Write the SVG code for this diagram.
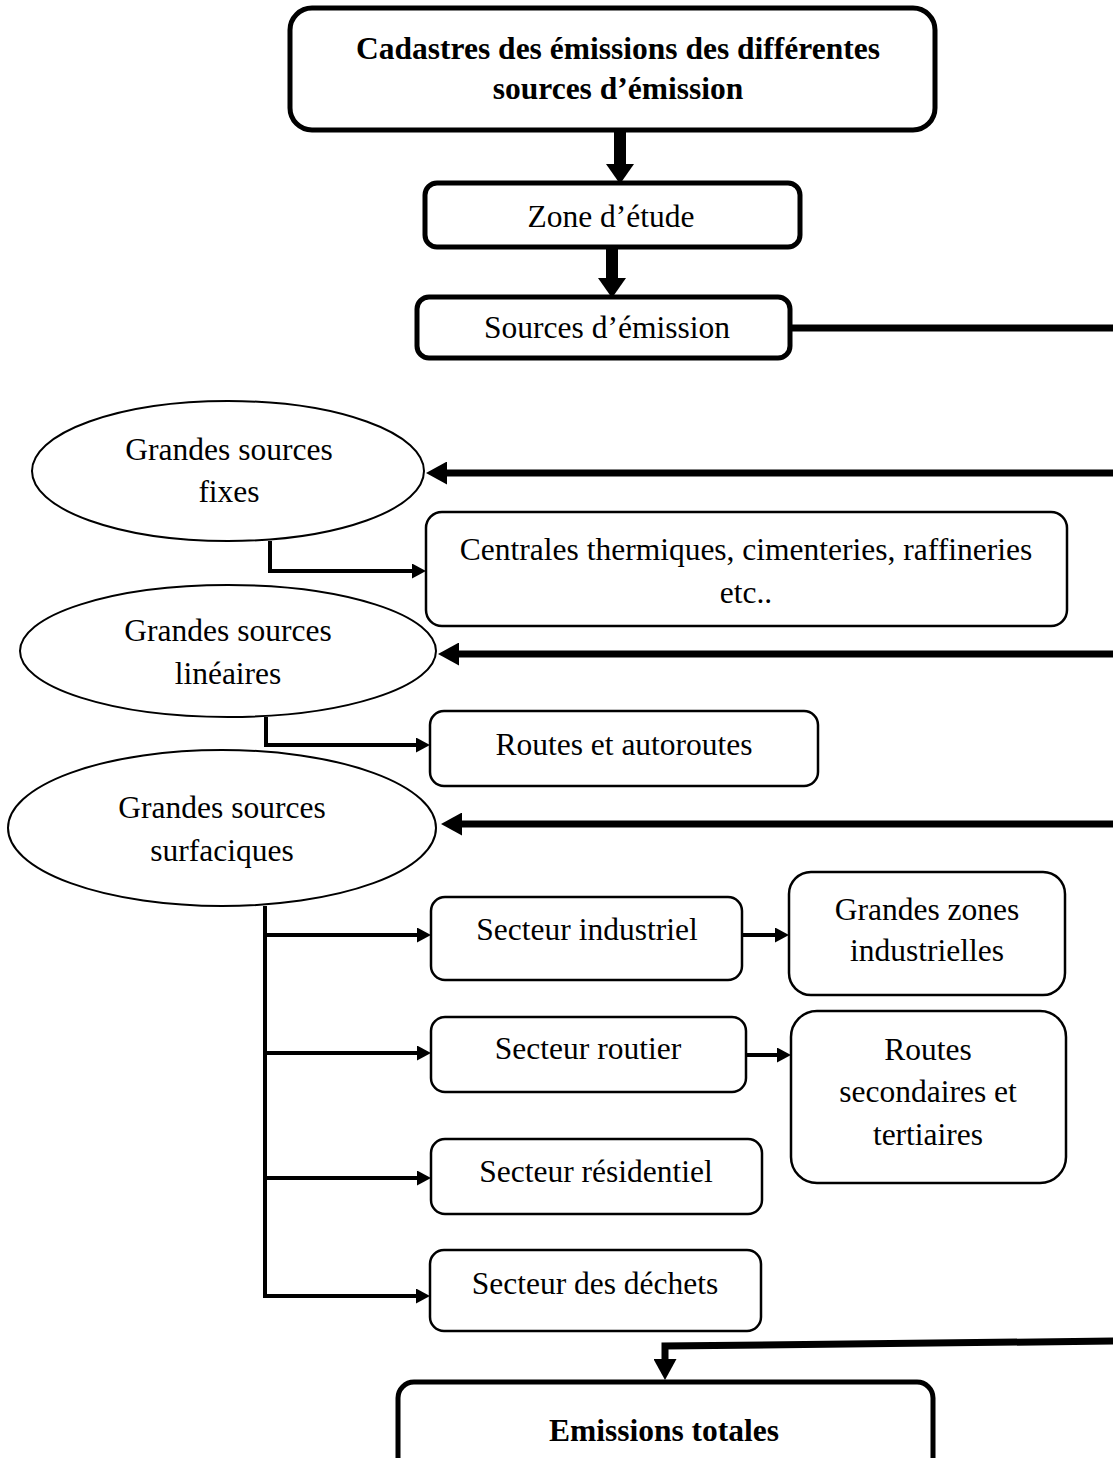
<svg xmlns="http://www.w3.org/2000/svg" width="1113" height="1458" viewBox="0 0 1113 1458">
<defs>
<style>
text{font-family:"Liberation Serif","Times New Roman",serif;font-size:31.5px;fill:#000;text-anchor:middle}
.b{font-weight:bold}
.thick{fill:#fff;stroke:#000;stroke-width:5}
.thin{fill:#fff;stroke:#000;stroke-width:2.5}
.ell{fill:#fff;stroke:#000;stroke-width:2}
.c12{fill:none;stroke:#000;stroke-width:12}
.c7{fill:none;stroke:#000;stroke-width:7}
.c4{fill:none;stroke:#000;stroke-width:4}
</style>
<marker id="hBig" markerUnits="userSpaceOnUse" viewBox="0 0 20 28" markerWidth="20" markerHeight="28" refX="0" refY="14" orient="auto"><path d="M0,0 L20,14 L0,28 z" fill="#000"/></marker>
<marker id="hMed" markerUnits="userSpaceOnUse" viewBox="0 0 21 23" markerWidth="21" markerHeight="23" refX="0" refY="11.5" orient="auto"><path d="M0,0 L21,11.5 L0,23 z" fill="#000"/></marker>
<marker id="hSm" markerUnits="userSpaceOnUse" viewBox="0 0 14 15" markerWidth="14" markerHeight="15" refX="0" refY="7.5" orient="auto"><path d="M0,0 L14,7.5 L0,15 z" fill="#000"/></marker>
</defs>

<g id="connectors">
<path class="c12" d="M620,131 V164" marker-end="url(#hBig)"/>
<path class="c12" d="M612,248 V278" marker-end="url(#hBig)"/>
<path class="c7" d="M790,328 H1120"/>
<path class="c7" d="M1120,473 H447" marker-end="url(#hMed)"/>
<path class="c4" d="M270,541 V571 H412" marker-end="url(#hSm)"/>
<path class="c7" d="M1120,654 H459" marker-end="url(#hMed)"/>
<path class="c4" d="M266,717 V745 H416" marker-end="url(#hSm)"/>
<path class="c7" d="M1120,824 H462" marker-end="url(#hMed)"/>
<path class="c4" d="M265,906 V1296"/>
<path class="c4" d="M265,935 H417" marker-end="url(#hSm)"/>
<path class="c4" d="M265,1053 H417" marker-end="url(#hSm)"/>
<path class="c4" d="M265,1178 H417" marker-end="url(#hSm)"/>
<path class="c4" d="M263,1296 H416" marker-end="url(#hSm)"/>
<path class="c4" d="M743,935 H775" marker-end="url(#hSm)"/>
<path class="c4" d="M747,1055 H777" marker-end="url(#hSm)"/>
<path class="c7" d="M1120,1341 L665,1346 V1359" marker-end="url(#hMed)"/>
</g>

<g id="n-cadastres">
<rect class="thick" x="290" y="8" width="645" height="122" rx="22"/>
<text class="b" x="618" y="59">Cadastres des émissions des différentes</text>
<text class="b" x="618" y="99">sources d’émission</text>
</g>
<g id="n-zone">
<rect class="thick" x="425" y="183" width="375" height="64" rx="12"/>
<text x="611" y="227">Zone d’étude</text>
</g>
<g id="n-sources">
<rect class="thick" x="417" y="297" width="373" height="61" rx="12"/>
<text x="607" y="338">Sources d’émission</text>
</g>
<g id="n-fixes">
<ellipse class="ell" cx="228" cy="471" rx="196" ry="70"/>
<text x="229" y="460">Grandes sources</text>
<text x="229" y="502">fixes</text>
</g>
<g id="n-centrales">
<rect class="thin" x="426" y="512" width="641" height="114" rx="16"/>
<text x="746" y="560">Centrales thermiques, cimenteries, raffineries</text>
<text x="746" y="603">etc..</text>
</g>
<g id="n-lineaires">
<ellipse class="ell" cx="228" cy="651" rx="208" ry="66"/>
<text x="228" y="641">Grandes sources</text>
<text x="228" y="684">linéaires</text>
</g>
<g id="n-routes">
<rect class="thin" x="430" y="711" width="388" height="75" rx="14"/>
<text x="624" y="755">Routes et autoroutes</text>
</g>
<g id="n-surfaciques">
<ellipse class="ell" cx="222" cy="828" rx="214" ry="78"/>
<text x="222" y="818">Grandes sources</text>
<text x="222" y="861">surfaciques</text>
</g>
<g id="n-industriel">
<rect class="thin" x="431" y="897" width="311" height="83" rx="14"/>
<text x="587" y="940">Secteur industriel</text>
</g>
<g id="n-zones">
<rect class="thin" x="789" y="872" width="276" height="123" rx="22"/>
<text x="927" y="920">Grandes zones</text>
<text x="927" y="961">industrielles</text>
</g>
<g id="n-routier">
<rect class="thin" x="431" y="1017" width="315" height="75" rx="14"/>
<text x="588" y="1059">Secteur routier</text>
</g>
<g id="n-secondaires">
<rect class="thin" x="791" y="1011" width="275" height="172" rx="26"/>
<text x="928" y="1060">Routes</text>
<text x="928" y="1102">secondaires et</text>
<text x="928" y="1145">tertiaires</text>
</g>
<g id="n-residentiel">
<rect class="thin" x="431" y="1139" width="331" height="75" rx="14"/>
<text x="596" y="1182">Secteur résidentiel</text>
</g>
<g id="n-dechets">
<rect class="thin" x="430" y="1250" width="331" height="81" rx="14"/>
<text x="595" y="1294">Secteur des déchets</text>
</g>
<g id="n-totales">
<rect class="thick" x="398" y="1382" width="535" height="95" rx="16"/>
<text class="b" x="664" y="1441">Emissions totales</text>
</g>
</svg>
